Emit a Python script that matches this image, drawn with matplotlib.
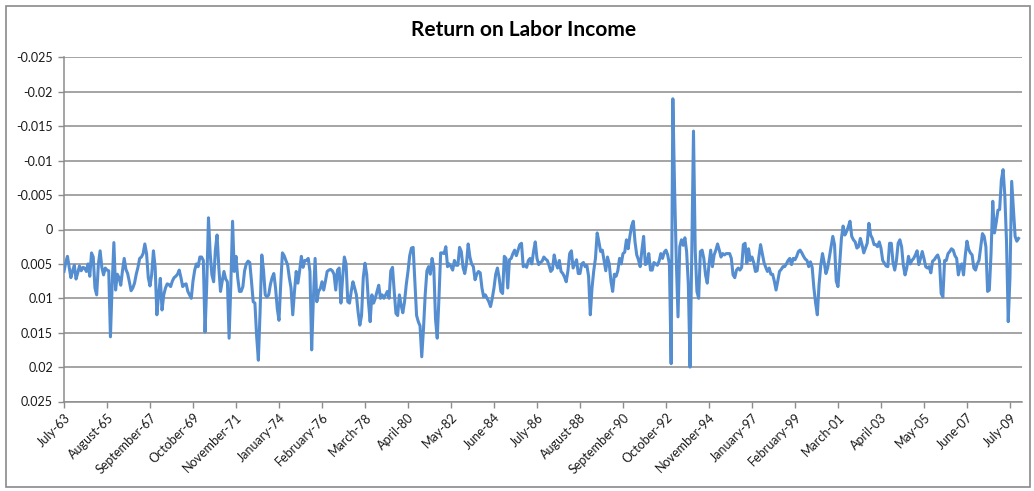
import matplotlib
matplotlib.use("Agg")
import matplotlib.pyplot as plt
from matplotlib.patches import Rectangle
import numpy as np

# ---- data (values in units of 1e-3) ----
seg1 = [6.1, 4.8, 3.9, 5.5, 7.0, 6.0, 5.2, 7.2, 6.3, 5.3,
        6.0, 5.5, 5.6, 6.1, 5.0, 6.8, 3.4, 4.0, 8.5, 9.5,
        5.0, 3.1, 5.5, 6.6, 5.6, 5.9, 6.0, 15.6, 8.0, 1.9,
        8.8, 6.5, 7.0, 8.1, 6.0, 4.2, 5.8, 6.4, 7.6, 8.9,
        8.5, 7.8, 6.5, 5.5, 4.2, 4.0, 3.5, 2.1, 3.5, 7.0,
        8.2, 6.5, 3.1, 5.5, 12.4, 9.5, 7.1, 11.7, 9.5, 8.5,
        7.9, 8.0, 8.3, 7.5, 7.0, 6.8, 6.5, 5.9, 7.0, 8.3,
        8.0, 7.9, 9.0, 9.5, 10.0, 7.5, 5.9, 5.0]
seg2 = [5.4, 4.0, 4.0, 4.5, 14.9, 8.0, -1.7, 3.5, 6.6, 7.6,
        3.0, 0.8, 5.5, 9.0, 7.5, 6.1, 7.2, 7.6, 15.8, 8.0,
        -1.2, 6.1, 3.9, 7.0, 9.0, 9.0, 8.3, 6.0, 5.0, 4.6,
        4.8, 7.5, 10.5, 10.7, 15.5, 19.0, 12.0, 3.7, 5.9, 9.5,
        9.8, 9.5, 8.0, 7.0, 6.4, 8.5, 11.5, 13.2, 8.0, 3.4,
        3.8, 4.5, 5.1, 7.0, 8.5, 12.4, 9.0, 6.1, 7.8, 6.0,
        3.9, 5.5, 4.5, 4.5, 4.2, 6.1, 17.5, 10.0, 4.2, 10.5,
        9.0, 8.6, 7.6, 8.8, 7.5, 6.1, 5.9, 5.8, 6.0, 6.5,
        8.8]
seg3 = [5.9, 5.6, 10.7, 7.0, 4.0, 5.0, 10.5, 10.7, 9.0, 7.6,
        8.5, 9.5, 12.0, 13.9, 12.5, 7.0, 4.9, 6.5, 10.5, 13.4,
        9.5, 10.7, 10.0, 9.0, 8.1, 10.0, 9.5, 10.0, 9.5, 9.0,
        10.0, 6.0, 5.5, 9.0, 12.2, 12.5, 9.5, 11.0, 12.1, 10.5,
        8.0, 6.1, 3.8, 2.7, 2.6, 7.6, 12.5, 13.4, 14.0, 18.5,
        14.5, 9.5, 6.0, 5.4, 6.5, 4.2, 5.5, 13.0, 15.8, 10.0,
        3.4, 3.4, 3.5, 2.5, 5.4, 5.0, 5.4, 5.9, 4.5, 5.2,
        5.2, 2.6, 3.2, 5.5, 6.4, 5.0, 2.1, 4.0, 5.0, 5.4]
seg4 = [7.3, 6.5, 6.1, 6.3, 8.5, 9.8, 9.5, 10.0, 10.5, 11.2,
        10.0, 8.5, 6.5, 5.6, 7.0, 9.0, 9.3, 3.9, 4.2, 8.5,
        4.4, 4.2, 3.5, 3.0, 3.8, 3.0, 2.2, 2.0, 5.4, 5.2,
        5.5, 4.5, 4.2, 5.0, 3.2, 1.8, 4.2, 5.1, 4.8, 4.6,
        4.0, 4.3, 4.5, 5.2, 6.1, 5.8, 3.7, 4.9, 5.6, 4.5,
        6.1, 6.4, 6.9, 7.6, 6.0, 3.5, 3.1, 5.6, 5.0, 4.4,
        6.4, 6.4, 5.0, 4.8, 5.4, 5.2, 6.8, 12.4, 8.5, 6.0,
        4.2, 0.5, 1.8, 3.2, 3.0, 4.5, 6.0, 4.0, 5.0, 7.5]
seg5 = [9.0, 6.5, 6.8, 6.0, 4.2, 5.0, 3.5, 3.3, 1.5, 2.8,
        1.0, -0.5, -1.2, 1.8, 3.7, 4.4, 5.4, 3.0, 1.0, 5.1,
        4.9, 3.5, 5.9, 5.9, 4.8, 5.0, 5.2, 4.6, 3.5, 4.2,
        3.3, 3.0, 3.7, 5.0, 19.5, -19.0, -6.0, 4.5, 12.7, 2.5,
        1.5, 2.3, 1.2, 3.2, 8.0, 20.0, 3.5, -14.3, 3.0, 9.0,
        10.0, 3.2, 3.0, 4.2, 6.6, 7.8, 5.1, 3.0, 5.4, 3.7,
        3.0, 2.1, 3.0, 4.0, 3.5, 3.7, 3.5, 3.5, 3.5, 4.2,
        6.6, 7.0, 5.9, 5.6, 5.9, 5.5, 2.2, 2.0]
seg6 = [4.9, 2.8, 4.5, 4.0, 4.8, 6.1, 6.0, 4.0, 2.2, 3.5,
        4.8, 5.5, 6.1, 5.6, 6.5, 6.5, 7.5, 8.8, 7.5, 6.1,
        5.8, 5.4, 5.4, 5.0, 4.5, 4.2, 5.1, 4.2, 4.4, 3.9,
        3.2, 3.0, 3.4, 3.9, 4.3, 4.5, 5.4, 4.7, 5.5, 8.5,
        10.7, 12.4, 8.0, 5.2, 3.5, 4.8, 6.4, 5.6, 4.0, 2.5,
        1.0, 2.2, 7.5, 8.3, 5.0, 1.3, -0.5, 0.8, 0.3, -0.4,
        -1.2, 1.0, 1.5, 1.8, 2.7, 2.5, 1.3, 2.2, 3.4, 2.7,
        2.0, -0.9, 0.8, 1.3, 2.2, 2.2, 2.5, 1.8, 2.7, 4.5,
        4.9]
seg7 = [5.3, 5.4, 2.0, 2.0, 4.8, 5.9, 4.5, 2.0, 1.5, 2.5,
        5.2, 6.6, 5.6, 3.9, 5.0, 4.5, 4.2, 3.7, 3.1, 5.1,
        4.2, 3.2, 4.2, 5.4, 5.6, 5.4, 6.3, 4.6, 4.4, 4.0,
        3.7, 4.5, 9.3, 9.8, 4.5, 4.5, 3.5, 3.2, 2.8, 3.0,
        3.8, 4.2, 6.6, 5.4, 5.0, 6.6, 3.8, 1.7, 2.9, 3.4,
        3.7, 5.6, 5.9, 5.0, 4.5, 2.6, 0.6, 1.0, 2.5, 9.0,
        8.8, 3.5, -4.1, 0.5, -1.0, -2.8, -2.9, -7.2, -8.7, -5.0,
        1.8, 13.4, 7.0, -7.0, -3.0, 1.0, 1.7, 1.3]

tick_labels = ["July-63", "August-65", "September-67", "October-69", "November-71",
               "January-74", "February-76", "March-78", "April-80", "May-82",
               "June-84", "July-86", "August-88", "September-90", "October-92",
               "November-94", "January-97", "February-99", "March-01", "April-03",
               "May-05", "June-07", "July-09"]
tick_step = 25
y_ticks = [-0.025, -0.02, -0.015, -0.01, -0.005, 0, 0.005, 0.01, 0.015, 0.02, 0.025]
y_tick_labels = ["-0.025", "-0.02", "-0.015", "-0.01", "-0.005", "0",
                 "0.005", "0.01", "0.015", "0.02", "0.025"]
title = "Return on Labor Income"

values = np.array(seg1 + seg2 + seg3 + seg4 + seg5 + seg6 + seg7) * 1e-3
x = np.arange(len(values))

# ---- figure ----
W, H, DPI = 1034, 491, 100
fig = plt.figure(figsize=(W / DPI, H / DPI), dpi=DPI)
fig.patch.set_facecolor("white")
plt.rcParams['font.family'] = ['Lato', 'DejaVu Sans']

# outer chart border
fig.patches.append(Rectangle((5.5 / W, 4 / H), 1024 / W, 481 / H, transform=fig.transFigure,
                             fill=False, edgecolor="#8a8a8a", linewidth=1.2))

left, right, top, bottom = 64, 1022, 57.5, 401.5
ax = fig.add_axes([left / W, (H - bottom) / H, (right - left) / W, (bottom - top) / H])

grid_col = "#8c8c8c"
ax.plot(x, values, color="#558ED0", linewidth=2.2, solid_joinstyle="round", zorder=3)

ax.set_ylim(0.025, -0.025)
ax.set_xlim(0, len(values) + 1)
ax.set_yticks(y_ticks)
ax.set_yticklabels(y_tick_labels)
ax.yaxis.grid(True, color=grid_col, linewidth=1.1)
ax.set_axisbelow(True)

tick_pos = [i * tick_step for i in range(len(tick_labels))]
ax.set_xticks(tick_pos)
ax.set_xticklabels(tick_labels, rotation=45, ha="right", rotation_mode="anchor")

for s in ["top", "right"]:
    ax.spines[s].set_visible(False)
for s in ["left", "bottom"]:
    ax.spines[s].set_color(grid_col)
    ax.spines[s].set_linewidth(1.1)

ax.tick_params(axis="both", colors=grid_col, length=4, width=1.0, labelcolor="#1a1a1a",
               labelsize=9)
ax.tick_params(axis="y", pad=4)
ax.tick_params(axis="x", pad=3)

fig.text(524 / W, 1 - 30 / H, title, ha="center", va="center", fontsize=15,
         fontweight="bold", color="black")

fig.savefig("out.png", dpi=DPI, facecolor="white")
